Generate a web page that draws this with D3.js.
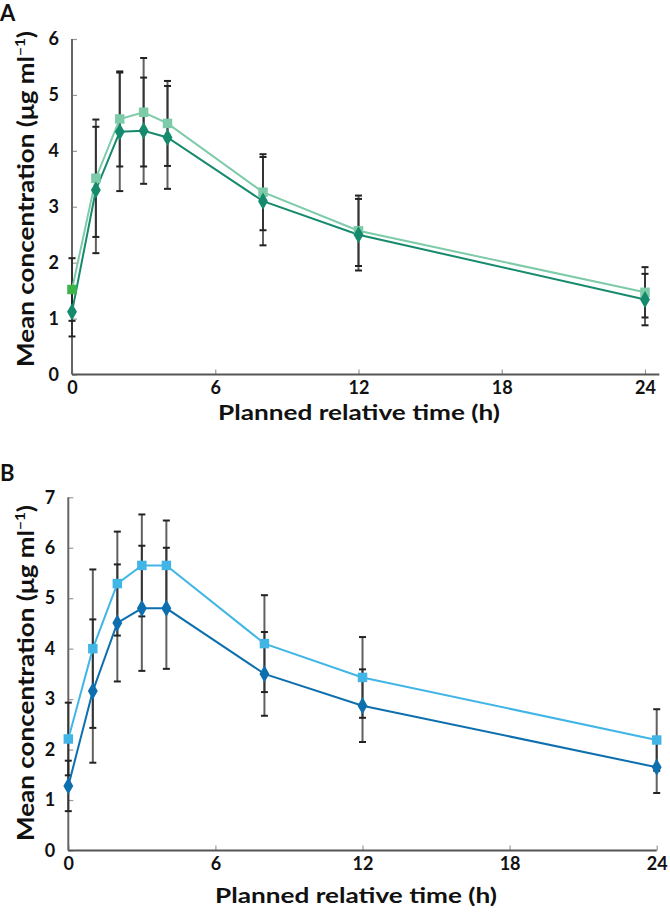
<!DOCTYPE html>
<html>
<head>
<meta charset="utf-8">
<script src="https://cdn.jsdelivr.net/npm/d3@7"></script>
<style>
  html, body { margin: 0; padding: 0; background: #fff; }
  svg { display: block; }
  text { font-family: Lato, "Open Sans", sans-serif; font-weight: 700; fill: #111; }
</style>
</head>
<body>
<svg id="chart" width="670" height="916"></svg>
<script>
// ---- data ----
const times = [0, 1, 2, 3, 4, 8, 12, 24];
const xTicks = [0, 6, 12, 18, 24];
const yTicksA = [0, 1, 2, 3, 4, 5, 6];
const yTicksB = [0, 1, 2, 3, 4, 5, 6, 7];

// Panel A
const aSquareMean = [1.52, 3.51, 4.57, 4.69, 4.49, 3.26, 2.57, 1.47];
const aSquareSD   = [0.56, 1.05, 0.85, 0.97, 0.76, 0.68, 0.63, 0.45];
const aDiamondMean = [1.12, 3.30, 4.34, 4.36, 4.24, 3.10, 2.50, 1.34];
const aDiamondSD   = [0.44, 1.13, 1.06, 0.95, 0.92, 0.79, 0.64, 0.46];

// Panel B
const bSquareMean = [2.21, 4.00, 5.29, 5.65, 5.65, 4.10, 3.43, 2.19];
const bSquareSD   = [0.72, 1.57, 1.03, 1.01, 0.89, 0.96, 0.80, 0.61];
const bDiamondMean = [1.28, 3.16, 4.51, 4.80, 4.80, 3.50, 2.87, 1.65];
const bDiamondSD   = [0.50, 1.42, 1.16, 1.24, 1.20, 0.83, 0.72, 0.51];

const xTitle = "Planned relative time (h)";

const svg = d3.select("#chart");

function panel(cfg) {
  const g = svg.append("g");
  const x = d3.scaleLinear().domain([0, 24]).range(cfg.xr);
  const y = d3.scaleLinear().domain([0, cfg.ymax]).range(cfg.yr);

  // panel letter
  g.append("text").attr("x", 0).attr("y", cfg.letterY)
    .attr("font-size", 22).attr("font-weight", 900).text(cfg.letter);

  // y axis
  const ya = g.append("g").attr("transform", `translate(${x(0)},0)`)
    .call(d3.axisLeft(y).tickValues(cfg.yTicks).tickFormat(d3.format("d"))
      .tickSizeInner(-5).tickSizeOuter(0).tickPadding(13));
  ya.select(".domain").remove();
  ya.selectAll(".tick line").attr("stroke", "#999").attr("stroke-width", 1.2);
  ya.selectAll(".tick text").attr("font-size", 18).attr("font-family", "Lato").attr("font-weight", 900).attr("fill", "#111");

  // x axis
  const xa = g.append("g").attr("transform", `translate(0,${y(0)})`)
    .call(d3.axisBottom(x).tickValues(xTicks).tickFormat(d3.format("d"))
      .tickSizeInner(-5).tickSizeOuter(0).tickPadding(7));
  xa.select(".domain").remove();
  xa.selectAll(".tick line").attr("stroke", "#999").attr("stroke-width", 1.2);
  xa.selectAll(".tick text").attr("font-size", 18).attr("font-family", "Lato").attr("font-weight", 900).attr("fill", "#111")
    .attr("dy", "0.71em");

  // axis lines
  g.append("line").attr("x1", x(0)).attr("x2", x(0))
    .attr("y1", y(0)).attr("y2", y(cfg.ymax))
    .attr("stroke", "#666").attr("stroke-width", 2);
  g.append("line").attr("x1", x(0)).attr("x2", x(cfg.xEnd))
    .attr("y1", y(0)).attr("y2", y(0))
    .attr("stroke", "#555").attr("stroke-width", 2.2);

  // axis titles
  g.append("text").attr("x", cfg.xTitleX).attr("y", cfg.xTitleY)
    .attr("text-anchor", "middle").attr("font-size", 21).attr("font-weight", 900)
    .attr("textLength", 282).attr("lengthAdjust", "spacingAndGlyphs")
    .text(xTitle);
  const yt = g.append("text")
    .attr("transform", `translate(${cfg.yTitleX},${cfg.yTitleY}) rotate(-90)`)
    .attr("text-anchor", "middle").attr("font-size", 22).attr("font-weight", 900)
    .attr("textLength", 336).attr("lengthAdjust", "spacingAndGlyphs");
  yt.append("tspan").text("Mean concentration (μg ml");
  yt.append("tspan").attr("font-size", 13).attr("dy", -9).text("−1");
  yt.append("tspan").attr("dy", 9).text(")");

  // error bars
  const bars = g.append("g");
  cfg.series.forEach(s => {
    times.forEach((t, i) => {
      const lo = s.mean[i] - s.sd[i], hi = s.mean[i] + s.sd[i];
      bars.append("line").attr("x1", x(t)).attr("x2", x(t))
        .attr("y1", y(lo)).attr("y2", y(hi))
        .attr("stroke", "#222").attr("stroke-opacity", 0.72).attr("stroke-width", 2);
      [lo, hi].forEach(v => {
        bars.append("line").attr("x1", x(t) - 3.5).attr("x2", x(t) + 3.5)
          .attr("y1", y(v)).attr("y2", y(v))
          .attr("stroke", "#222").attr("stroke-width", 2);
      });
    });
  });

  // lines + markers
  cfg.series.forEach(s => {
    const line = d3.line().x((d, i) => x(times[i])).y(d => y(d));
    g.append("path").datum(s.mean).attr("d", line)
      .attr("fill", "none").attr("stroke", s.color).attr("stroke-width", 2);
  });
  cfg.series.forEach(s => {
    const sym = d3.symbol().type(s.shape === "square" ? d3.symbolSquare : d3.symbolDiamond)
      .size(s.shape === "square" ? 90 : 85);
    g.selectAll(null).data(s.mean).enter().append("path")
      .attr("d", sym)
      .attr("transform", (d, i) => `translate(${x(times[i])},${y(d)})`)
      .attr("fill", (d, i) => (i === 0 && s.firstColor) ? s.firstColor : s.color);
  });
}

panel({
  letter: "A", letterY: 21,
  xr: [72, 645], yr: [374.5, 39], ymax: 6, xEnd: 24.6,
  yTicks: yTicksA,
  xTitleX: 359, xTitleY: 420,
  yTitleX: 34, yTitleY: 199,
  series: [
    { mean: aSquareMean, sd: aSquareSD, color: "#7dcba9", shape: "square", firstColor: "#3cb44a" },
    { mean: aDiamondMean, sd: aDiamondSD, color: "#168a6c", shape: "diamond" }
  ]
});

panel({
  letter: "B", letterY: 481,
  xr: [68.3, 656.7], yr: [850.5, 497.3], ymax: 7, xEnd: 24,
  yTicks: yTicksB,
  xTitleX: 356, xTitleY: 903,
  yTitleX: 34, yTitleY: 673,
  series: [
    { mean: bSquareMean, sd: bSquareSD, color: "#41b6e6", shape: "square" },
    { mean: bDiamondMean, sd: bDiamondSD, color: "#0d6fae", shape: "diamond" }
  ]
});
</script>
</body>
</html>
